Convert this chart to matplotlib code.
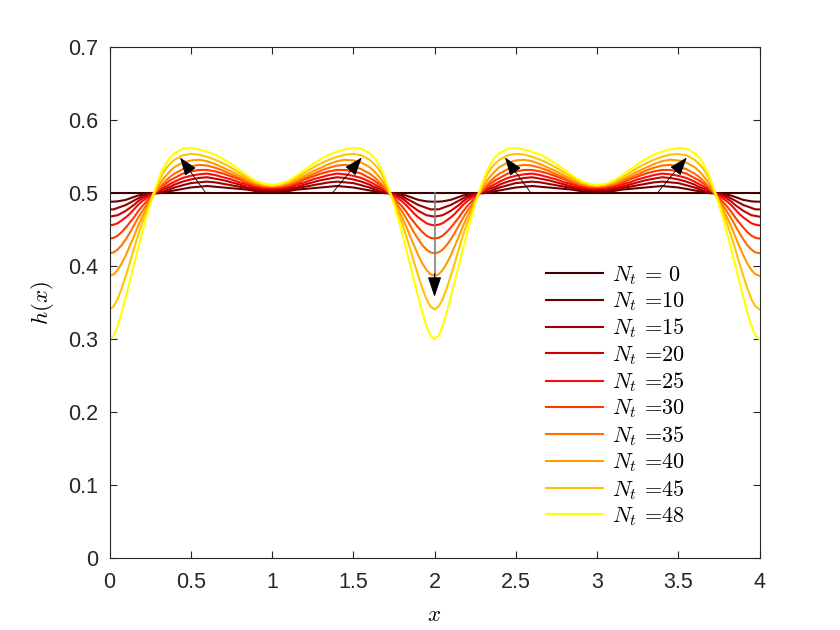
import matplotlib
matplotlib.use('Agg')
import matplotlib.pyplot as plt
import numpy as np

plt.rcParams['font.family'] = ['Liberation Sans', 'DejaVu Sans']
plt.rcParams['mathtext.fontset'] = 'cm'
Fontsize = 15.5

x_half = [0.000, 0.025, 0.050, 0.075, 0.100, 0.125, 0.150, 0.175, 0.200, 0.225,
          0.250, 0.275, 0.300, 0.325, 0.350, 0.375, 0.400, 0.450, 0.500, 0.550,
          0.600, 0.650, 0.700, 0.750, 0.800, 0.850, 0.900, 0.950, 1.000]

Nt_steps = [0, 10, 15, 20, 25, 30, 35, 40, 45, 48]

h_00 = [0.500] * 29
h_10 = [0.4885, 0.4886, 0.489, 0.490, 0.491, 0.493, 0.495, 0.497, 0.498, 0.499,
        0.4995, 0.500, 0.500, 0.501, 0.502, 0.503, 0.504, 0.506, 0.508, 0.509,
        0.510, 0.509, 0.508, 0.507, 0.506, 0.505, 0.503, 0.503, 0.502]
h_15 = [0.478, 0.478, 0.480, 0.482, 0.484, 0.487, 0.490, 0.493, 0.496, 0.498,
        0.499, 0.500, 0.501, 0.502, 0.504, 0.506, 0.508, 0.511, 0.514, 0.515,
        0.516, 0.515, 0.513, 0.511, 0.509, 0.507, 0.505, 0.504, 0.504]
h_20 = [0.468, 0.469, 0.470, 0.473, 0.476, 0.480, 0.484, 0.489, 0.493, 0.496,
        0.498, 0.500, 0.503, 0.505, 0.507, 0.509, 0.512, 0.516, 0.519, 0.521,
        0.522, 0.520, 0.518, 0.515, 0.512, 0.509, 0.507, 0.506, 0.505]
h_25 = [0.456, 0.457, 0.459, 0.463, 0.467, 0.472, 0.478, 0.484, 0.489, 0.493,
        0.497, 0.500, 0.504, 0.507, 0.510, 0.513, 0.516, 0.521, 0.524, 0.526,
        0.527, 0.525, 0.522, 0.519, 0.515, 0.512, 0.509, 0.507, 0.507]
h_30 = [0.438, 0.439, 0.442, 0.447, 0.453, 0.460, 0.467, 0.475, 0.482, 0.488,
        0.494, 0.500, 0.505, 0.510, 0.514, 0.518, 0.521, 0.527, 0.530, 0.532,
        0.532, 0.530, 0.527, 0.523, 0.519, 0.514, 0.511, 0.509, 0.508]
h_35 = [0.418, 0.419, 0.423, 0.429, 0.437, 0.446, 0.456, 0.466, 0.475, 0.483,
        0.491, 0.499, 0.506, 0.512, 0.518, 0.523, 0.527, 0.533, 0.537, 0.539,
        0.538, 0.535, 0.531, 0.526, 0.521, 0.516, 0.512, 0.510, 0.509]
h_40 = [0.387, 0.389, 0.395, 0.404, 0.415, 0.428, 0.441, 0.455, 0.467, 0.478,
        0.489, 0.500, 0.510, 0.518, 0.525, 0.531, 0.536, 0.542, 0.545, 0.546,
        0.544, 0.540, 0.535, 0.530, 0.524, 0.518, 0.514, 0.511, 0.510]
h_45 = [0.341, 0.345, 0.355, 0.370, 0.387, 0.405, 0.424, 0.442, 0.459, 0.474,
        0.488, 0.502, 0.515, 0.526, 0.535, 0.541, 0.546, 0.552, 0.554, 0.553,
        0.550, 0.546, 0.541, 0.535, 0.528, 0.521, 0.515, 0.512, 0.5105]
h_48 = [0.300, 0.305, 0.318, 0.337, 0.358, 0.380, 0.402, 0.424, 0.446, 0.466,
        0.485, 0.502, 0.518, 0.532, 0.542, 0.550, 0.555, 0.561, 0.562, 0.560,
        0.557, 0.553, 0.547, 0.540, 0.532, 0.524, 0.517, 0.513, 0.511]

curves = [h_00, h_10, h_15, h_20, h_25, h_30, h_35, h_40, h_45, h_48]
colors = ['#3c0000', '#700000', '#9a0000', '#c80000', '#ff0a0a',
          '#ff3a00', '#ff6e00', '#ff9c00', '#ffc400', '#ffff00']
labels = [r'$N_t$ = 0'] + [r'$N_t$ =%d' % n for n in Nt_steps[1:]]


def full_curve(v):
    v = np.array(v)
    period = np.concatenate([v, v[-2::-1]])        # 0..2
    return np.concatenate([period, period[1:]])    # 0..4


x_half = np.array(x_half)
x_full = np.concatenate([x_half, 2 - x_half[-2::-1]])
x_full = np.concatenate([x_full, 2 + x_full[1:]])

fig = plt.figure(figsize=(8.4, 6.3), dpi=100)
ax = fig.add_axes([0.1304, 0.1138, 0.7738, 0.8111])

for h, c, lab in zip(curves, colors, labels):
    ax.plot(x_full, full_curve(h), color=c, linewidth=1.5, label=lab)

# arrows showing growth of the humps and the deepening trough
arrows = [((0.588, 0.502), (0.434, 0.549)),
          ((1.377, 0.502), (1.552, 0.549)),
          ((2.588, 0.502), (2.434, 0.549)),
          ((3.377, 0.502), (3.552, 0.549))]
for tail, tip in arrows:
    ax.annotate('', xy=tip, xytext=tail,
                arrowprops=dict(arrowstyle='-|>,head_length=1.15,head_width=0.42',
                                color='black', lw=0.6, shrinkA=0, shrinkB=0))
ax.plot([2, 2], [0.372, 0.5], color='#808080', lw=1.2)
ax.annotate('', xy=(2, 0.358), xytext=(2, 0.39),
            arrowprops=dict(arrowstyle='-|>,head_length=1.25,head_width=0.42',
                            color='black', lw=0.8, shrinkA=0, shrinkB=0))

ax.set_xlim(0, 4)
ax.set_ylim(0, 0.7)
ax.set_xticks([0, 0.5, 1, 1.5, 2, 2.5, 3, 3.5, 4])
ax.set_xticklabels(['0', '0.5', '1', '1.5', '2', '2.5', '3', '3.5', '4'])
ax.set_yticks([0, 0.1, 0.2, 0.3, 0.4, 0.5, 0.6, 0.7])
ax.set_yticklabels(['0', '0.1', '0.2', '0.3', '0.4', '0.5', '0.6', '0.7'])
ax.tick_params(direction='in', top=True, right=True, length=5, width=0.8,
               labelsize=Fontsize, colors='#262626', pad=8)
ax.tick_params(axis='x', pad=10)
for spine in ax.spines.values():
    spine.set_linewidth(0.8)
    spine.set_color('#262626')

ax.set_xlabel(r'$x$', fontsize=Fontsize + 1, labelpad=7)
ax.set_ylabel(r'$h(x)$', fontsize=Fontsize + 1, labelpad=9)

ax.legend(loc='upper left', bbox_to_anchor=(0.64, 0.615), frameon=False,
          prop={'family': 'cmr10', 'size': 16},
          handlelength=2.6, labelspacing=0.16, handletextpad=0.4)

fig.savefig('out.png', dpi=100)
